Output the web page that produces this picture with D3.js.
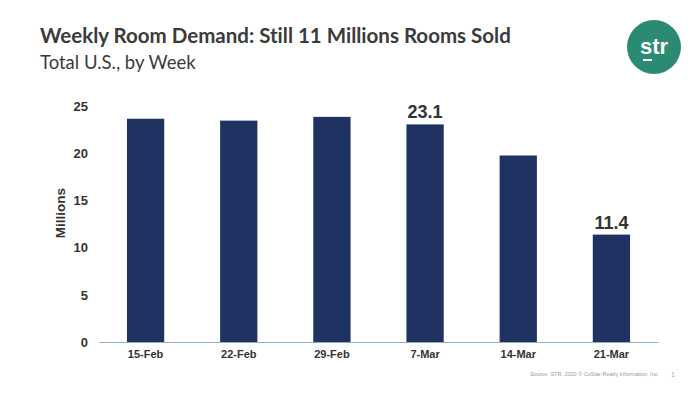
<!DOCTYPE html>
<html lang="en">
<head>
<meta charset="utf-8">
<title>Weekly Room Demand</title>
<script src="https://d3js.org/d3.v7.min.js"></script>
<style>
body { margin: 0; background: #fff; }
text { font-family: "Liberation Sans", Arial, sans-serif; }
.title { font-family: Lato, "Open Sans", sans-serif; font-variant-ligatures: none; }
</style>
</head>
<body>
<script>
// data
var weeks = ["15-Feb", "22-Feb", "29-Feb", "7-Mar", "14-Mar", "21-Mar"];
var demand = [23.7, 23.5, 23.9, 23.1, 19.8, 11.4];
var labelled = ["7-Mar", "21-Mar"];
var yTicks = [0, 5, 10, 15, 20, 25];

var w = 700, h = 394;
var mLeft = 99, mRight = 658, mTop = 106.5, mBottom = 342;

var svg = d3.select("body").append("svg")
  .attr("width", w)
  .attr("height", h);

// titles
svg.append("text").attr("class", "title")
  .attr("x", 40).attr("y", 43)
  .attr("font-size", 20.5).attr("font-weight", 700)
  .attr("fill", "#3b3b3b")
  .text("Weekly Room Demand: Still 11 Millions Rooms Sold");
svg.append("text").attr("class", "title")
  .attr("x", 40).attr("y", 69)
  .attr("font-size", 18.5)
  .attr("fill", "#3b3b3b")
  .text("Total U.S., by Week");

// logo
var logo = svg.append("g").attr("transform", "translate(654,47)");
logo.append("circle").attr("r", 27).attr("fill", "#2b8a72");
logo.append("text")
  .attr("text-anchor", "middle").attr("y", 7)
  .attr("font-family", "Lato, sans-serif")
  .attr("font-size", 22).attr("font-weight", 700).attr("fill", "#fff")
  .text("str");
logo.append("rect").attr("x", -11).attr("y", 12).attr("width", 9).attr("height", 2).attr("fill", "#fff");

// scales
var x = d3.scaleBand().domain(weeks).range([mLeft, mRight]).paddingInner(0.6).paddingOuter(0.3);
var y = d3.scaleLinear().domain([0, 25]).range([mBottom, mTop]);

// bars
svg.selectAll("rect.bar")
  .data(demand)
  .enter()
  .append("rect")
  .attr("class", "bar")
  .attr("x", function(d, i) { return x(weeks[i]); })
  .attr("y", function(d) { return y(d); })
  .attr("width", x.bandwidth())
  .attr("height", function(d) { return y(0) - y(d); })
  .attr("fill", "#1f3262");

// value labels
svg.selectAll("text.val")
  .data(demand.filter(function(d, i) { return labelled.indexOf(weeks[i]) >= 0; }))
  .enter()
  .append("text")
  .attr("class", "val")
  .attr("x", function(d) { return x(weeks[demand.indexOf(d)]) + x.bandwidth() / 2; })
  .attr("y", function(d) { return y(d) - 6; })
  .attr("text-anchor", "middle")
  .attr("font-size", 18).attr("font-weight", 700)
  .attr("fill", "#333")
  .text(function(d) { return d.toFixed(1); });

// y axis (labels only)
var yAxis = svg.append("g")
  .attr("transform", "translate(" + mLeft + ",0)")
  .call(d3.axisLeft(y).tickValues(yTicks).tickSize(0).tickPadding(11));
yAxis.select(".domain").remove();
yAxis.selectAll("text")
  .attr("font-size", 13).attr("font-weight", 700)
  .attr("fill", "#333")
  .style("font-family", "Liberation Sans, Arial, sans-serif");

// x axis
var xAxis = svg.append("g")
  .attr("transform", "translate(0," + mBottom + ")")
  .call(d3.axisBottom(x).tickSize(0).tickPadding(8));
xAxis.select(".domain").attr("stroke", "#8db2cc").attr("stroke-width", 1.2);
xAxis.selectAll("text")
  .attr("font-size", 11).attr("font-weight", 700)
  .attr("fill", "#333")
  .style("font-family", "Liberation Sans, Arial, sans-serif");

// y label
svg.append("text")
  .attr("transform", "translate(65,213) rotate(-90)")
  .attr("text-anchor", "middle")
  .attr("font-size", 13.5).attr("font-weight", 700)
  .attr("fill", "#333")
  .text("Millions");

// footer
svg.append("text")
  .attr("x", 659).attr("y", 376)
  .attr("text-anchor", "end")
  .attr("font-size", 5.5).attr("fill", "#9a9a9a")
  .text("Source: STR. 2020 \u00a9 CoStar Realty Information, Inc.");
svg.append("text")
  .attr("x", 673).attr("y", 377)
  .attr("text-anchor", "middle")
  .attr("font-size", 7).attr("fill", "#aaa")
  .text("1");
</script>
</body>
</html>
